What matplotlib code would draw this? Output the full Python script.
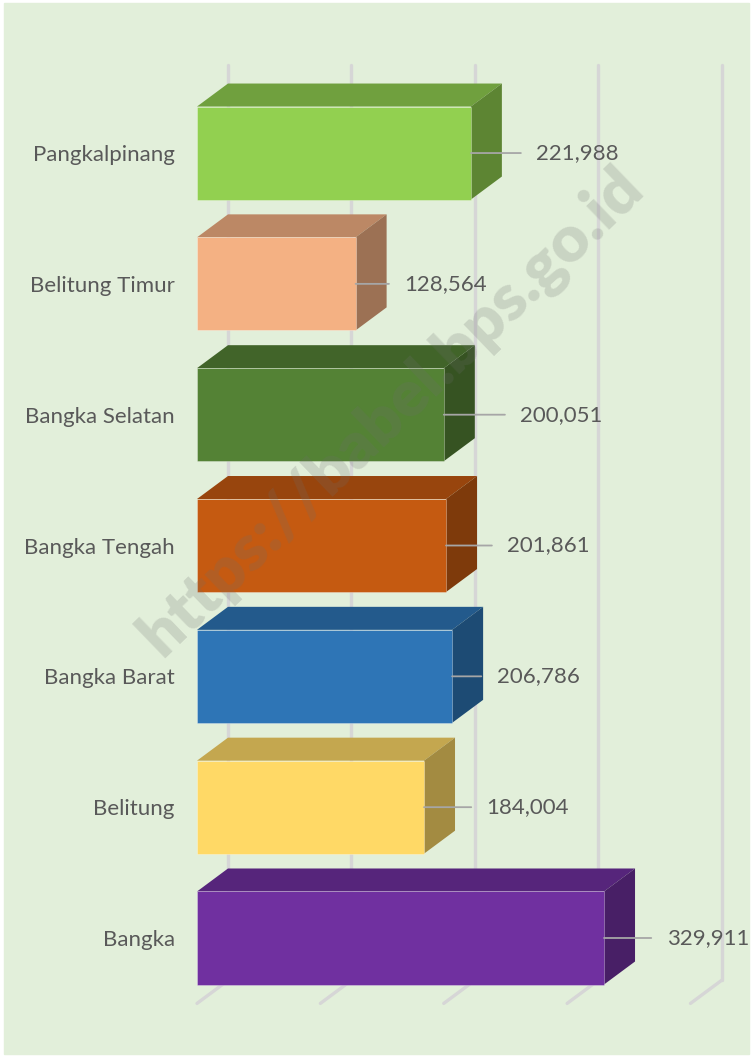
import matplotlib
matplotlib.use('Agg')
import matplotlib.pyplot as plt
from matplotlib.patches import Polygon, Rectangle
import matplotlib.colors as mcolors

# data, bottom to top
regions = ['Bangka', 'Belitung', 'Bangka Barat', 'Bangka Tengah',
           'Bangka Selatan', 'Belitung Timur', 'Pangkalpinang']
values = [329911, 184004, 206786, 201861, 200051, 128564, 221988]
colors = ['#7030A0', '#FFD966', '#2E75B6', '#C55A11',
          '#548235', '#F4B183', '#92D050']
# label offsets (points) from the front right edge of each bar
label_gap = [45, 45, 32, 44, 55, 35, 47]

plt.rcParams['font.family'] = ['Lato', 'DejaVu Sans']

fig = plt.figure(figsize=(7.52, 10.57), dpi=100, facecolor='white')
fig.patches.append(Rectangle((4 / 752, 3 / 1057), 745 / 752, 1051 / 1057,
                             transform=fig.transFigure, color='#E2EFDA',
                             zorder=-10))

ax = fig.add_axes([197 / 752, 0.0507, 493.5 / 752, 0.8664])
ax.set_facecolor('none')
ax.set_xlim(0, 400000)
ax.set_ylim(-0.5, 6.5)

# depth of the 3d box in data units
dx = 31 * 400000 / 493.5
dy = 23 / 130.83
h = 0.711
grid_c = '#D6D6D6'

for v in range(0, 400001, 100000):
    ax.plot([v + dx, v + dx], [-0.5 + dy, 6.5 + dy], color=grid_c, lw=2.4,
            clip_on=False, zorder=1, solid_capstyle='round')
    ax.plot([v, v + dx], [-0.5, -0.5 + dy], color=grid_c, lw=2.4,
            clip_on=False, zorder=1, solid_capstyle='round')


def shade(c, f):
    r, g, b = mcolors.to_rgb(c)
    return (r * f, g * f, b * f)


for i, (v, c) in enumerate(zip(values, colors)):
    lo, hi = i - h / 2, i + h / 2
    top = Polygon([(0, hi), (dx, hi + dy), (v + dx, hi + dy), (v, hi)],
                  closed=True, facecolor=shade(c, 0.77), edgecolor='none',
                  clip_on=False, zorder=3)
    side = Polygon([(v, lo), (v, hi), (v + dx, hi + dy), (v + dx, lo + dy)],
                   closed=True, facecolor=shade(c, 0.64), edgecolor='none',
                   clip_on=False, zorder=3)
    front = Rectangle((0, lo), v, h, facecolor=c,
                      edgecolor=mcolors.to_rgba('white', 0.35), lw=0.6,
                      clip_on=False, zorder=4)
    ax.add_patch(top)
    ax.add_patch(side)
    ax.add_patch(front)
    ax.annotate(f'{v:,}', xy=(v, i), xytext=(label_gap[i], 0),
                textcoords='offset points', ha='left', va='center',
                fontsize=16, color='#595959', zorder=6,
                arrowprops=dict(arrowstyle='-', color='#A6A6A6', lw=1.3,
                                shrinkA=9, shrinkB=0, relpos=(0, 0.5)))

ax.set_yticks(range(len(regions)))
ax.set_yticklabels(regions, fontsize=16, color='#595959')
ax.tick_params(axis='y', length=0, pad=16)
ax.set_xticks([])
for s in ax.spines.values():
    s.set_visible(False)

fig.text(392 / 752, 1 - 412 / 1057, 'https://babel.bps.go.id',
         rotation=44, ha='center', va='center', fontsize=47,
         fontweight='heavy', color='#6E6E6E', alpha=0.21, zorder=20)

fig.savefig('out.png', dpi=100, facecolor='white')
